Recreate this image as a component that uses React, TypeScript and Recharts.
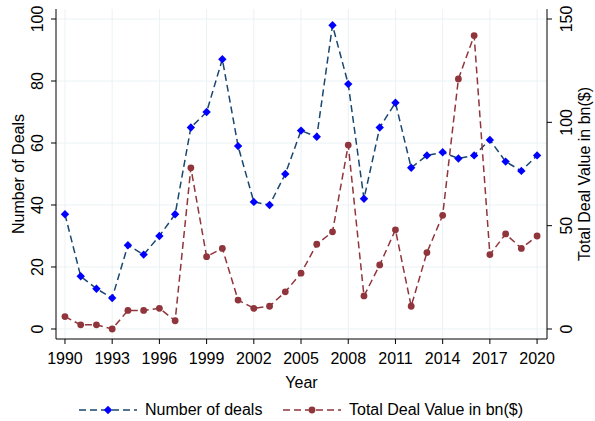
import { LineChart, Line, XAxis, YAxis, CartesianGrid } from "recharts";

const years = [
  1990, 1991, 1992, 1993, 1994, 1995, 1996, 1997, 1998, 1999, 2000, 2001, 2002,
  2003, 2004, 2005, 2006, 2007, 2008, 2009, 2010, 2011, 2012, 2013, 2014, 2015,
  2016, 2017, 2018, 2019, 2020,
];
const numberOfDeals = [
  37, 17, 13, 10, 27, 24, 30, 37, 65, 70, 87, 59, 41, 40, 50, 64, 62, 98, 79,
  42, 65, 73, 52, 56, 57, 55, 56, 61, 54, 51, 56,
];
const dealValue = [
  6, 2, 2, 0, 9, 9, 10, 4, 78, 35, 39, 14, 10, 11, 18, 27, 41, 47, 89, 16, 31,
  48, 11, 37, 55, 121, 142, 36, 46, 39, 45,
];
const yearTicks = [1990, 1993, 1996, 1999, 2002, 2005, 2008, 2011, 2014, 2017, 2020];
const dealTicks = [0, 20, 40, 60, 80, 100];
const valueTicks = [0, 50, 100, 150];

const data = years.map((year, i) => ({
  year,
  deals: numberOfDeals[i],
  value: dealValue[i],
}));

const FONT = "'Liberation Sans', Arial, Helvetica, sans-serif";
const FS = 16;
const NAVY = "#1a476f";
const BLUE = "#0000ff";
const MAROON = "#90353b";

function Diamond(props: any) {
  const { cx, cy } = props;
  if (cx == null || cy == null) return null;
  const r = 4.2;
  return (
    <path
      d={`M${cx},${cy - r}L${cx + r},${cy}L${cx},${cy + r}L${cx - r},${cy}Z`}
      fill={BLUE}
      stroke="none"
    />
  );
}

function Dot(props: any) {
  const { cx, cy } = props;
  if (cx == null || cy == null) return null;
  return <circle cx={cx} cy={cy} r={3.4} fill={MAROON} stroke="none" />;
}

function XTick(props: any) {
  const { x, y, payload } = props;
  return (
    <text x={x} y={y + 18} textAnchor="middle" fontFamily={FONT} fontSize={FS} fill="#000">
      {payload.value}
    </text>
  );
}

function LeftTick(props: any) {
  const { x, y, payload } = props;
  return (
    <text
      transform={`translate(${x - 6},${y}) rotate(-90)`}
      textAnchor="middle"
      fontFamily={FONT}
      fontSize={FS}
      fill="#000"
    >
      {payload.value}
    </text>
  );
}

function RightTick(props: any) {
  const { x, y, payload } = props;
  return (
    <text
      transform={`translate(${x + 18},${y}) rotate(-90)`}
      textAnchor="middle"
      fontFamily={FONT}
      fontSize={FS}
      fill="#000"
    >
      {payload.value}
    </text>
  );
}

function LegendItem({ color, marker, label, width }: any) {
  return (
    <div style={{ display: "flex", alignItems: "center", width }}>
      <svg width={60} height={14} style={{ marginRight: 6 }}>
        <line x1={0} y1={7} x2={58} y2={7} stroke={color} strokeWidth={1.5} strokeDasharray="7 4" />
        {marker === "diamond" ? (
          <path d="M29,2.8L33.2,7L29,11.2L24.8,7Z" fill={BLUE} />
        ) : (
          <circle cx={29} cy={7} r={3.4} fill={MAROON} />
        )}
      </svg>
      <span>{label}</span>
    </div>
  );
}

export default function App() {
  return (
    <div style={{ position: "relative", width: 595, height: 421, background: "#fff" }}>
      <style>{`body{margin:0}`}</style>
      <LineChart
        width={595}
        height={421}
        data={data}
        margin={{ top: 9, right: 0, left: 0, bottom: 0 }}
      >
        <CartesianGrid
          yAxisId="left"
          stroke="#eaf2f3"
          strokeWidth={1}
          horizontalValues={dealTicks}
          verticalValues={yearTicks}
        />
        <XAxis
          dataKey="year"
          type="number"
          domain={[1989.43, 2020.63]}
          ticks={yearTicks}
          allowDataOverflow
          height={82}
          tickSize={5}
          stroke="#000"
          tickLine={{ stroke: "#000" }}
          tick={<XTick />}
          label={(p: any) => {
            const vb = p.viewBox;
            return (
              <text
                x={vb.x + vb.width / 2}
                y={vb.y + 49}
                textAnchor="middle"
                fontFamily={FONT}
                fontSize={FS}
                fill="#000"
              >
                Year
              </text>
            );
          }}
        />
        <YAxis
          yAxisId="left"
          width={56}
          domain={[-3.226, 103.226]}
          ticks={dealTicks}
          allowDataOverflow
          tickSize={5}
          stroke="#000"
          tick={<LeftTick />}
          label={(p: any) => {
            const vb = p.viewBox;
            const cy = vb.y + vb.height / 2;
            return (
              <text
                transform={`translate(24,${cy}) rotate(-90)`}
                textAnchor="middle"
                fontFamily={FONT}
                fontSize={FS}
                fill="#000"
              >
                Number of Deals
              </text>
            );
          }}
        />
        <YAxis
          yAxisId="right"
          orientation="right"
          width={48}
          domain={[-4.839, 154.839]}
          ticks={valueTicks}
          allowDataOverflow
          tickSize={5}
          stroke="#000"
          tick={<RightTick />}
          label={(p: any) => {
            const vb = p.viewBox;
            const cy = vb.y + vb.height / 2;
            return (
              <text
                transform={`translate(590,${cy}) rotate(-90)`}
                textAnchor="middle"
                fontFamily={FONT}
                fontSize={FS}
                fill="#000"
              >
                Total Deal Value in bn($)
              </text>
            );
          }}
        />
        <Line
          yAxisId="left"
          dataKey="deals"
          type="linear"
          stroke={NAVY}
          strokeWidth={1.5}
          strokeDasharray="7 4"
          dot={<Diamond />}
          activeDot={false}
          isAnimationActive={false}
        />
        <Line
          yAxisId="right"
          dataKey="value"
          type="linear"
          stroke={MAROON}
          strokeWidth={1.5}
          strokeDasharray="7 4"
          dot={<Dot />}
          activeDot={false}
          isAnimationActive={false}
        />
      </LineChart>
      <div
        style={{
          position: "absolute",
          top: 401,
          left: 79,
          display: "flex",
          fontFamily: FONT,
          fontSize: FS,
          lineHeight: "18px",
          color: "#000",
        }}
      >
        <LegendItem color={NAVY} marker="diamond" label="Number of deals" width={204} />
        <LegendItem color={MAROON} marker="circle" label="Total Deal Value in bn($)" />
      </div>
    </div>
  );
}
